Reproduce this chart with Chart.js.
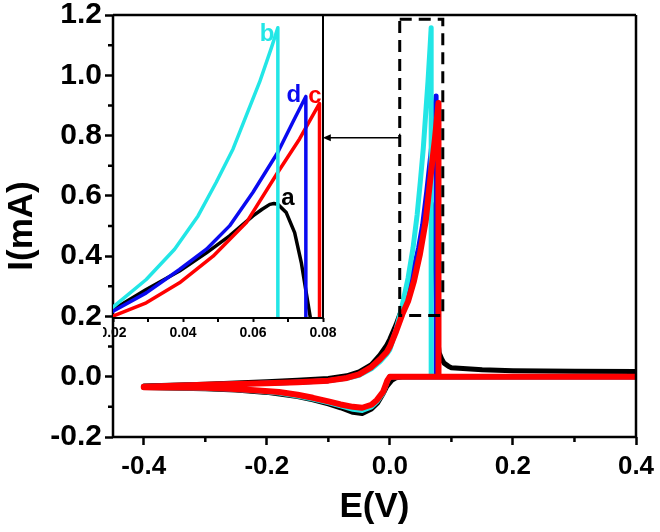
<!DOCTYPE html>
<html lang="en">
<head>
<meta charset="UTF-8">
<title>CV curves with inset</title>
<script src="https://cdn.jsdelivr.net/npm/chart.js@4.4.0/dist/chart.umd.min.js"></script>
<style>
    body { margin: 0; background: #fff; }
    #wrap { position: relative; width: 660px; height: 532px; }
    #mainBox { position: absolute; left: 0; top: 0; width: 660px; height: 532px; }
    #insetBox { position: absolute; left: 103px; top: 5px; width: 260px; height: 340px; }
</style>
</head>
<body>
<div id="wrap">
    <div id="mainBox"><canvas id="mainChart"></canvas></div>
    <div id="insetBox"><canvas id="insetChart"></canvas></div>
</div>

<script>
    // curve a (black)
    const aE = [-0.4, -0.3, -0.2, -0.15, -0.1, -0.07, -0.05, -0.03, -0.016, -0.005, 0.0, 0.01, 0.02, 0.0295, 0.039, 0.0467, 0.0533, 0.06, 0.0625, 0.0648, 0.066, 0.0671, 0.0695, 0.0719, 0.0738, 0.0752, 0.0764, 0.078, 0.08, 0.084, 0.088, 0.095, 0.1, 0.15, 0.2, 0.3, 0.4,
                0.4, 0.02, 0.01, 0.003, -0.005, -0.012, -0.02, -0.03, -0.045, -0.06, -0.08, -0.1, -0.125, -0.15, -0.2, -0.25, -0.3, -0.4];
    const aI = [-0.031, -0.025, -0.017, -0.012, -0.006, 0.003, 0.016, 0.04, 0.072, 0.105, 0.125, 0.172, 0.228, 0.294, 0.355, 0.415, 0.471, 0.537, 0.558, 0.575, 0.578, 0.575, 0.548, 0.482, 0.383, 0.284, 0.2, 0.12, 0.08, 0.06, 0.045, 0.035, 0.03, 0.023, 0.02, 0.018, 0.017,
                0.0, 0.0, -0.004, -0.012, -0.032, -0.06, -0.087, -0.107, -0.122, -0.118, -0.103, -0.09, -0.077, -0.066, -0.052, -0.044, -0.04, -0.036];

    // curve b (cyan)
    const bE = [-0.4, -0.3, -0.2, -0.15, -0.1, -0.07, -0.05, -0.03, -0.016, -0.005, 0.0, 0.01, 0.02, 0.0295, 0.0376, 0.0443, 0.0495, 0.0543, 0.0581, 0.0619, 0.0652, 0.0671, 0.0671, 0.4,
                0.0, -0.004, -0.011, -0.021, -0.03, -0.045, -0.06, -0.08, -0.1, -0.125, -0.15, -0.18, -0.22, -0.26, -0.3, -0.4];
    const bI = [-0.033, -0.027, -0.022, -0.018, -0.013, -0.005, 0.005, 0.026, 0.05, 0.075, 0.09, 0.155, 0.236, 0.327, 0.427, 0.537, 0.648, 0.758, 0.869, 0.979, 1.09, 1.158, 0.0, 0.0,
                0.0, -0.014, -0.054, -0.083, -0.1, -0.112, -0.108, -0.097, -0.086, -0.074, -0.064, -0.054, -0.047, -0.041, -0.038, -0.035];

    // curve c (red)
    const cE = [-0.4, -0.3, -0.2, -0.15, -0.1, -0.07, -0.05, -0.03, -0.016, -0.005, 0.0, 0.01, 0.02, 0.0295, 0.039, 0.0486, 0.0581, 0.0671, 0.0733, 0.079, 0.079, 0.4,
                0.0, -0.004, -0.011, -0.021, -0.03, -0.045, -0.06, -0.08, -0.1, -0.125, -0.15, -0.18, -0.22, -0.26, -0.3, -0.4];
    const cI = [-0.033, -0.027, -0.022, -0.018, -0.013, -0.004, 0.008, 0.032, 0.058, 0.082, 0.1, 0.15, 0.206, 0.25, 0.316, 0.404, 0.515, 0.681, 0.791, 0.908, 0.0, 0.0,
                0.0, -0.012, -0.05, -0.077, -0.093, -0.103, -0.1, -0.092, -0.082, -0.07, -0.06, -0.051, -0.045, -0.04, -0.037, -0.035];

    // curve d (blue)
    const dE = [-0.4, -0.3, -0.2, -0.15, -0.1, -0.07, -0.05, -0.03, -0.016, -0.005, 0.0, 0.01, 0.02, 0.0295, 0.039, 0.0467, 0.0533, 0.06, 0.0671, 0.0714, 0.0751, 0.0751, 0.4,
                0.0, -0.004, -0.011, -0.021, -0.03, -0.045, -0.06, -0.08, -0.1, -0.125, -0.15, -0.18, -0.22, -0.26, -0.3, -0.4];
    const dI = [-0.033, -0.027, -0.022, -0.018, -0.013, -0.004, 0.007, 0.03, 0.055, 0.08, 0.097, 0.155, 0.222, 0.283, 0.36, 0.427, 0.504, 0.615, 0.747, 0.847, 0.931, 0.0, 0.0,
                0.0, -0.013, -0.052, -0.08, -0.096, -0.107, -0.104, -0.095, -0.084, -0.072, -0.062, -0.052, -0.046, -0.041, -0.037, -0.035];

    // tick values
    const mainXTicks = [-0.4, -0.2, 0.0, 0.2, 0.4];
    const mainYTicks = [-0.2, 0.0, 0.2, 0.4, 0.6, 0.8, 1.0, 1.2];
    const mainMinorX = [-0.3, -0.1, 0.1, 0.3];
    const mainMinorY = [-0.1, 0.1, 0.3, 0.5, 0.7, 0.9, 1.1];
    const insetXTicks = [0.02, 0.04, 0.06, 0.08];
    const insetMinorX = [0.03, 0.05, 0.07];

    // zoom box + arrow (data coords of the main plot)
    const boxE = [0.016, 0.086, 0.086, 0.016, 0.016];
    const boxI = [1.186, 1.186, 0.203, 0.203, 1.186];
    const arrowFrom = [0.016, 0.793];
    const arrowTo = [-0.109, 0.793];

    // curve letters (data coords of the inset)
    const letterText = ['a', 'b', 'c', 'd'];
    const letterE = [0.0700, 0.0640, 0.0777, 0.0717];
    const letterI = [0.594, 1.137, 0.932, 0.935];

    const colA = '#000000', colB = '#22E6E6', colC = '#FF0000', colD = '#0A0AF0';
    const letterColors = [colA, colB, colC, colD];

    Chart.defaults.font.family = "'Liberation Sans', Arial, sans-serif";
    Chart.defaults.color = '#000';

    function pts(E, I) {
        return E.map((e, i) => ({ x: e, y: I[i] }));
    }

    function curve(E, I, color, width, order) {
        return {
            data: pts(E, I),
            showLine: true,
            borderColor: color,
            borderWidth: width,
            pointRadius: 0,
            tension: 0,
            borderJoinStyle: 'round',
            borderCapStyle: 'round',
            fill: false,
            order: order
        };
    }

    // frame lines around the plot area
    const frame = {
        id: 'frame',
        afterDraw(chart, args, opts) {
            const { ctx, chartArea: a } = chart;
            ctx.save();
            ctx.strokeStyle = '#000';
            ctx.lineWidth = opts.width;
            ctx.beginPath();
            if (opts.sides.includes('top')) { ctx.moveTo(a.left, a.top); ctx.lineTo(a.right, a.top); }
            if (opts.sides.includes('right')) { ctx.moveTo(a.right, a.top); ctx.lineTo(a.right, a.bottom); }
            if (opts.sides.includes('bottom')) { ctx.moveTo(a.left, a.bottom); ctx.lineTo(a.right, a.bottom); }
            if (opts.sides.includes('left')) { ctx.moveTo(a.left, a.top); ctx.lineTo(a.left, a.bottom); }
            ctx.stroke();
            ctx.restore();
        }
    };

    // short minor ticks
    const minorTicks = {
        id: 'minorTicks',
        afterDraw(chart, args, opts) {
            const { ctx, chartArea: a, scales } = chart;
            ctx.save();
            ctx.strokeStyle = '#000';
            ctx.lineWidth = opts.width;
            ctx.beginPath();
            (opts.x || []).forEach(v => {
                const px = scales.x.getPixelForValue(v);
                ctx.moveTo(px, a.bottom);
                ctx.lineTo(px, a.bottom + opts.len);
            });
            (opts.y || []).forEach(v => {
                const py = scales.y.getPixelForValue(v);
                ctx.moveTo(a.left, py);
                ctx.lineTo(a.left - opts.len, py);
            });
            ctx.stroke();
            ctx.restore();
        }
    };

    // arrow from zoom box to inset
    const arrow = {
        id: 'arrow',
        afterDatasetsDraw(chart) {
            const { ctx, scales } = chart;
            const x1 = scales.x.getPixelForValue(arrowFrom[0]);
            const y1 = scales.y.getPixelForValue(arrowFrom[1]);
            const x2 = scales.x.getPixelForValue(arrowTo[0]);
            const y2 = scales.y.getPixelForValue(arrowTo[1]);
            ctx.save();
            ctx.strokeStyle = '#000';
            ctx.fillStyle = '#000';
            ctx.lineWidth = 1.5;
            ctx.beginPath();
            ctx.moveTo(x1, y1);
            ctx.lineTo(x2 + 6, y2);
            ctx.moveTo(x1, y1 - 4);
            ctx.lineTo(x1, y1 + 4);
            ctx.stroke();
            ctx.beginPath();
            ctx.moveTo(x2, y2);
            ctx.lineTo(x2 + 8, y2 - 3.5);
            ctx.lineTo(x2 + 8, y2 + 3.5);
            ctx.closePath();
            ctx.fill();
            ctx.restore();
        }
    };

    // a, b, c, d letters in the inset
    const letters = {
        id: 'letters',
        afterDatasetsDraw(chart) {
            const { ctx, scales } = chart;
            ctx.save();
            ctx.font = "bold 24px 'Liberation Sans', Arial, sans-serif";
            ctx.textAlign = 'center';
            ctx.textBaseline = 'middle';
            letterText.forEach((t, i) => {
                ctx.fillStyle = letterColors[i];
                ctx.fillText(t, scales.x.getPixelForValue(letterE[i]), scales.y.getPixelForValue(letterI[i]));
            });
            ctx.restore();
        }
    };

    // main plot
    new Chart(document.getElementById('mainChart'), {
        type: 'scatter',
        data: {
            datasets: [
                curve(cE, cI, colC, 6, 0),
                curve(bE, bI, colB, 5, 1),
                curve(dE, dI, colD, 5, 2),
                curve(aE, aI, colA, 5, 3),
                {
                    data: pts(boxE, boxI),
                    showLine: true,
                    borderColor: '#000',
                    borderWidth: 3,
                    borderDash: [12, 7],
                    pointRadius: 0,
                    fill: false,
                    order: -1
                }
            ]
        },
        options: {
            responsive: true,
            maintainAspectRatio: false,
            animation: false,
            events: [],
            layout: { padding: { left: 0, right: 24, top: 15, bottom: 0 } },
            plugins: {
                legend: { display: false },
                tooltip: { enabled: false },
                frame: { sides: ['top', 'right', 'bottom', 'left'], width: 2.5 },
                minorTicks: { x: mainMinorX, y: mainMinorY, len: 5, width: 2.5 }
            },
            scales: {
                x: {
                    type: 'linear',
                    min: -0.45,
                    max: 0.4,
                    afterBuildTicks: s => { s.ticks = mainXTicks.map(v => ({ value: v })); },
                    afterFit: s => { s.height = 95; s.paddingLeft = 0; s.paddingRight = 0; },
                    border: { display: false },
                    grid: { drawOnChartArea: false, tickLength: 8, tickWidth: 2.5, color: '#000' },
                    ticks: {
                        color: '#000', font: { size: 26, weight: 'bold' }, padding: 6,
                        maxRotation: 0, autoSkip: false, callback: v => v.toFixed(1)
                    },
                    title: {
                        display: true, text: 'E(V)', color: '#000',
                        font: { size: 35, weight: 'bold' }, padding: { top: 0, bottom: 4 }
                    }
                },
                y: {
                    type: 'linear',
                    min: -0.2,
                    max: 1.2,
                    afterBuildTicks: s => { s.ticks = mainYTicks.map(v => ({ value: v })); },
                    afterFit: s => { s.width = 113; s.paddingTop = 0; s.paddingBottom = 0; },
                    border: { display: false },
                    grid: { drawOnChartArea: false, tickLength: 8, tickWidth: 2.5, color: '#000' },
                    ticks: {
                        color: '#000', font: { size: 30, weight: 'bold' }, padding: 3,
                        autoSkip: false, callback: v => v.toFixed(1)
                    },
                    title: {
                        display: true, text: 'I(mA)', color: '#000',
                        font: { size: 35, weight: 'bold' }, padding: { top: 1, bottom: 0 }
                    }
                }
            }
        },
        plugins: [frame, minorTicks, arrow]
    });

    // inset (zoom of the stripping peaks)
    new Chart(document.getElementById('insetChart'), {
        type: 'scatter',
        data: {
            datasets: [
                curve(bE, bI, colB, 3.5, 0),
                curve(dE, dI, colD, 3.5, 1),
                curve(cE, cI, colC, 3.5, 2),
                curve(aE, aI, colA, 3.5, 3)
            ]
        },
        options: {
            responsive: true,
            maintainAspectRatio: false,
            animation: false,
            events: [],
            layout: { padding: { left: 10, right: 40, top: 10, bottom: 0 } },
            plugins: {
                legend: { display: false },
                tooltip: { enabled: false },
                frame: { sides: ['right', 'bottom'], width: 2 },
                minorTicks: { x: insetMinorX, len: 4, width: 2 }
            },
            scales: {
                x: {
                    type: 'linear',
                    min: 0.02,
                    max: 0.08,
                    afterBuildTicks: s => { s.ticks = insetXTicks.map(v => ({ value: v })); },
                    afterFit: s => { s.height = 27; s.paddingLeft = 0; s.paddingRight = 0; },
                    border: { display: false },
                    grid: { drawOnChartArea: false, tickLength: 4, tickWidth: 2, color: '#000' },
                    ticks: {
                        color: '#000', font: { size: 14, weight: 'bold' }, padding: 3,
                        maxRotation: 0, autoSkip: false, callback: v => v.toFixed(2)
                    }
                },
                y: { type: 'linear', display: false, min: 0.2, max: 1.2 }
            }
        },
        plugins: [frame, minorTicks, letters]
    });
</script>
</body>
</html>
